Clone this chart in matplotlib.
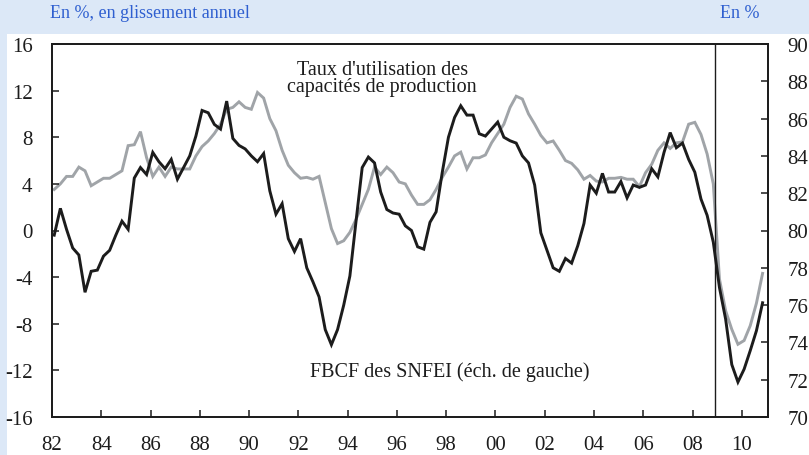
import numpy as np
import matplotlib
matplotlib.use("Agg")
import matplotlib.pyplot as plt
from matplotlib.patches import Rectangle

# ---- data (quarterly, 1982Q1 -> 2010Q4) ----
# FBCF des SNFEI, glissement annuel en % (left scale)
fbcf = [
    -0.4, 1.9, 0.1, -1.5,      # 82
    -2.1, -5.3, -3.5, -3.4,    # 83
    -2.2, -1.7, -0.4, 0.8,     # 84
    0.1, 4.5, 5.4, 4.8,        # 85
    6.7, 5.9, 5.3, 6.1,        # 86
    4.4, 5.4, 6.4, 8.1,        # 87
    10.3, 10.1, 9.1, 8.7,      # 88
    11.1, 7.9, 7.3, 7.0,       # 89
    6.4, 5.9, 6.6, 3.4,        # 90
    1.4, 2.3, -0.7, -1.8,      # 91
    -0.7, -3.2, -4.4, -5.7,    # 92
    -8.5, -9.8, -8.5, -6.4,    # 93
    -3.9, 0.8, 5.4, 6.3,       # 94
    5.8, 3.3, 1.8, 1.5,        # 95
    1.4, 0.4, 0.0, -1.4,       # 96
    -1.6, 0.7, 1.6, 5.0,       # 97
    8.0, 9.7, 10.7, 9.9,       # 98
    9.9, 8.3, 8.1, 8.7,        # 99
    9.3, 8.0, 7.7, 7.5,        # 00
    6.4, 5.8, 3.9, -0.2,       # 01
    -1.7, -3.2, -3.5, -2.4,    # 02
    -2.8, -1.3, 0.6, 3.9,      # 03
    3.2, 4.9, 3.3, 3.3,        # 04
    4.2, 2.8, 3.9, 3.7,        # 05
    3.9, 5.3, 4.6, 6.7,        # 06
    8.4, 7.1, 7.5, 6.1,        # 07
    5.0, 2.7, 1.3, -1.0,       # 08
    -4.9, -7.6, -11.5, -13.0,  # 09
    -11.9, -10.3, -8.6, -6.2,  # 10
]

# Taux d'utilisation des capacites de production, en % (right scale)
tuc = [
    82.2, 82.5, 82.9, 82.9,    # 82
    83.4, 83.2, 82.4, 82.6,    # 83
    82.8, 82.8, 83.0, 83.2,    # 84
    84.55, 84.6, 85.3, 83.9,   # 85
    82.9, 83.4, 82.9, 83.4,    # 86
    83.3, 83.3, 83.3, 84.0,    # 87
    84.5, 84.8, 85.2, 85.7,    # 88
    86.5, 86.6, 86.9, 86.6,    # 89
    86.5, 87.4, 87.1, 86.0,    # 90
    85.35, 84.3, 83.5, 83.1,   # 91
    82.8, 82.85, 82.75, 82.9,  # 92
    81.5, 80.1, 79.3, 79.45,   # 93
    79.9, 80.6, 81.4, 82.2,    # 94
    83.4, 83.0, 83.4, 83.1,    # 95
    82.6, 82.5, 81.9, 81.4,    # 96
    81.4, 81.65, 82.2, 82.85,  # 97
    83.4, 84.0, 84.2, 83.3,    # 98
    83.9, 83.9, 84.05, 84.7,   # 99
    85.2, 85.7, 86.6, 87.2,    # 00
    87.05, 86.25, 85.7, 85.1,  # 01
    84.7, 84.8, 84.3, 83.75,   # 02
    83.6, 83.25, 82.75, 82.95, # 03
    82.65, 82.6, 82.8, 82.8,   # 04
    82.85, 82.75, 82.75, 82.35,# 05
    83.1, 83.55, 84.3, 84.7,   # 06
    84.4, 84.7, 84.75, 85.7,   # 07
    85.8, 85.15, 84.1, 82.5,   # 08
    77.4, 75.7, 74.7, 73.9,    # 09
    74.1, 74.9, 76.1, 77.7,    # 10
]

years = list(range(1982, 2011, 2))
year_labels = [str(y)[-2:] for y in years]
left_ticks = list(range(-16, 17, 4))
right_ticks = list(range(70, 91, 2))
crisis_date = 2008.9

t = 1982.09 + np.arange(len(fbcf)) * 0.25

# ---- style ----
plt.rcParams['font.family'] = ['Liberation Serif', 'DejaVu Serif']
plt.rcParams['axes.unicode_minus'] = False

BG = '#dce8f7'
BLUE = '#2f5fd0'
BLACK = '#1c1c1c'
GREY = '#a0a4a8'

fig = plt.figure(figsize=(8.09, 4.56), dpi=100, facecolor=BG)
fig.patches.append(Rectangle((7 / 809, 0), 1, 1 - 35 / 456, transform=fig.transFigure,
                             facecolor='white', edgecolor='none', zorder=-10))

ax = fig.add_axes([52 / 809, 1 - 418 / 456, (768 - 52) / 809, (418 - 45) / 456])
ax.set_zorder(2)
ax2 = ax.twinx()
ax2.set_zorder(1)
ax.patch.set_visible(False)
ax2.patch.set_visible(False)

ax2.plot(t, tuc, color=GREY, lw=2.1, solid_joinstyle='miter')
ax.plot(t, fbcf, color=BLACK, lw=2.1, solid_joinstyle='miter')
ax.axvline(crisis_date, color=BLACK, lw=1.0)

ax.set_xlim(1982, 2011.06)
ax.set_ylim(-16, 16)
ax2.set_ylim(70, 90)

ax.set_xticks(years)
ax.set_xticklabels(year_labels)
ax.set_yticks(left_ticks)
ax2.set_yticks(right_ticks)

for a in (ax, ax2):
    for s in a.spines.values():
        s.set_linewidth(1.3)
        s.set_color(BLACK)

ax.tick_params(axis='both', direction='in', length=5, width=1.1, pad=14,
               labelsize=15, colors=BLACK, top=False, right=False)
ax.tick_params(axis='x', pad=13)
ax2.tick_params(axis='y', direction='in', length=5, width=1.1, pad=14,
                labelsize=15, colors=BLACK)

# annotations
ax.text(1995.4, 13.1, "Taux d'utilisation des\ncapacités de production",
        ha='center', va='center', fontsize=14.5, color=BLACK, linespacing=0.85)
ax.text(1998.15, -12.05, "FBCF des SNFEI (éch. de gauche)",
        ha='center', va='center', fontsize=14.5, color=BLACK)

fig.text(50 / 809, 1 - 14 / 456, "En %, en glissement annuel", ha='left', va='center',
         fontsize=13, color=BLUE)
fig.text(760 / 809, 1 - 14 / 456, "En %", ha='right', va='center',
         fontsize=13, color=BLUE)

fig.savefig('out.png', dpi=100, facecolor=BG)
